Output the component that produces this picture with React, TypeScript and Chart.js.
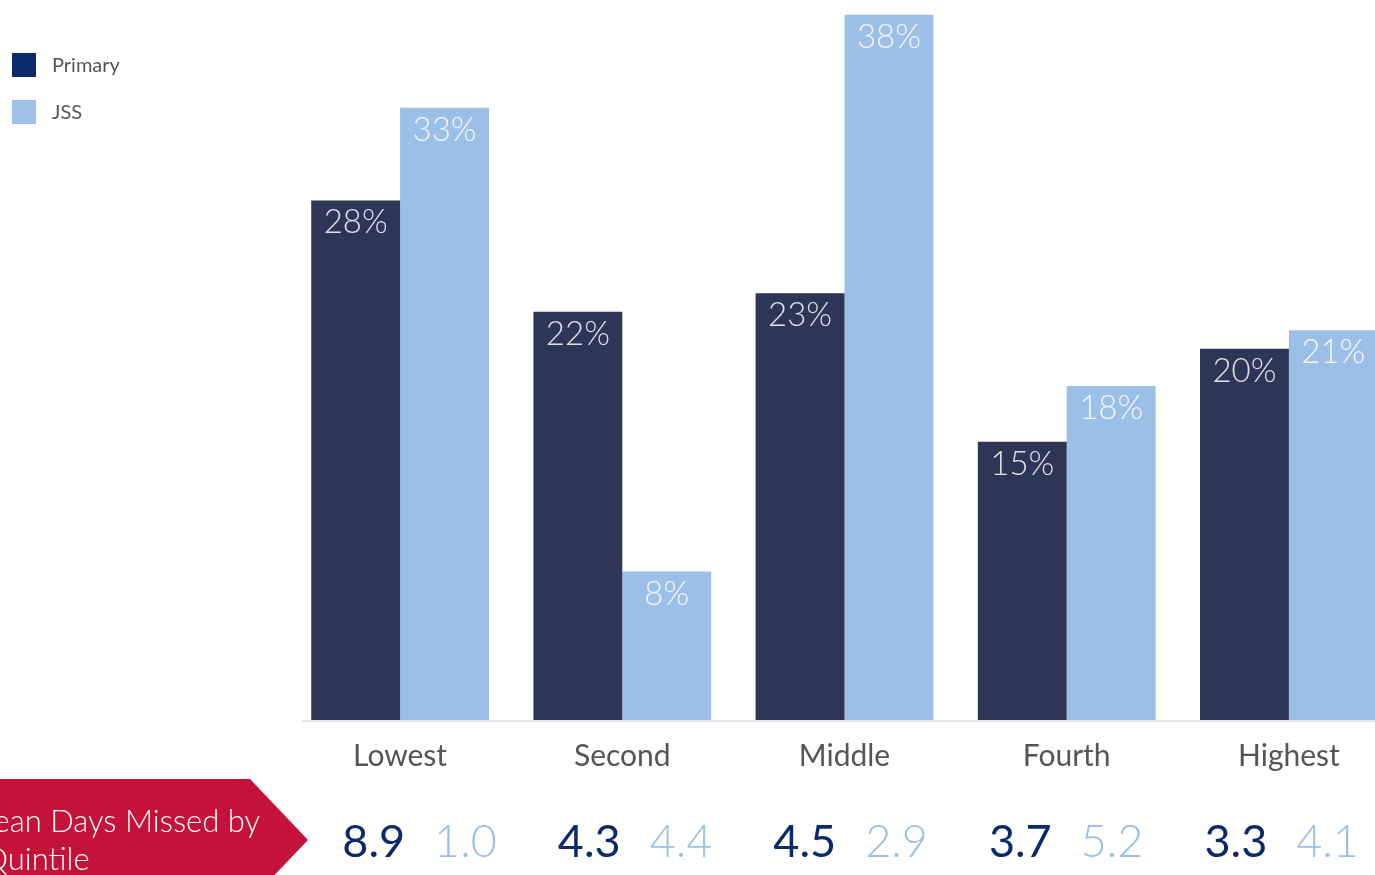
import React, { useEffect, useRef } from "react";
import { Chart, registerables } from "chart.js";

Chart.register(...registerables);

const categories = ["Lowest", "Second", "Middle", "Fourth", "Highest"];
const primaryValues = [28, 22, 23, 15, 20];
const jssValues = [33, 8, 38, 18, 21];
const primaryDays = ["8.9", "4.3", "4.5", "3.7", "3.3"];
const jssDays = ["1.0", "4.4", "2.9", "5.2", "4.1"];
const seriesNames = ["Primary", "JSS"];
const sideLabel = ["Mean Days Missed by", "Quintile"];

const BAR_DARK = "#2d3656";
const BAR_LIGHT = "#9bbfe6";
const LEGEND_DARK = "#0d2a6b";
const LEGEND_LIGHT = "#9fc3e8";
const NUM_DARK = "#0b2a6b";
const RED = "#c41239";
const FONT = "Lato, 'Open Sans', sans-serif";

const overlayPlugin = {
  id: "overlay",
  beforeDatasetsDraw(chart: any) {
    const ctx = chart.ctx;
    const area = chart.chartArea;
    ctx.save();
    ctx.strokeStyle = "#dcdcdc";
    ctx.lineWidth = 1.5;
    ctx.beginPath();
    ctx.moveTo(302, area.bottom + 1);
    ctx.lineTo(chart.width, area.bottom + 1);
    ctx.stroke();
    ctx.restore();
  },
  afterDatasetsDraw(chart: any) {
    const ctx = chart.ctx;
    const area = chart.chartArea;
    const xs = chart.scales.x;
    ctx.save();

    // bar value labels
    ctx.font = `300 33px ${FONT}`;
    ctx.textAlign = "center";
    ctx.textBaseline = "alphabetic";
    chart.data.datasets.forEach((ds: any, di: number) => {
      const meta = chart.getDatasetMeta(di);
      meta.data.forEach((bar: any, i: number) => {
        ctx.fillStyle = di === 0 ? "#dde1ea" : "#f2f7fc";
        ctx.fillText(ds.data[i] + "%", bar.x, bar.y + 33);
      });
    });

    // category labels
    ctx.font = `400 30px ${FONT}`;
    ctx.fillStyle = "#555555";
    categories.forEach((c, i) => {
      ctx.fillText(c, xs.getPixelForValue(i), area.bottom + 46);
    });

    // mean days numbers
    const ref = xs.getPixelForValue(3);
    categories.forEach((_, i) => {
      const gap = ref + (xs.getPixelForValue(i) - ref) * 0.97;
      ctx.textAlign = "right";
      ctx.font = `400 45px ${FONT}`;
      ctx.fillStyle = NUM_DARK;
      ctx.fillText(primaryDays[i], gap - 15, 857);
      ctx.textAlign = "left";
      ctx.font = `300 45px ${FONT}`;
      ctx.fillStyle = BAR_LIGHT;
      ctx.fillText(jssDays[i], gap + 14, 857);
    });

    // red arrow
    ctx.fillStyle = RED;
    ctx.beginPath();
    ctx.moveTo(0, 779);
    ctx.lineTo(250, 779);
    ctx.lineTo(308, 840);
    ctx.lineTo(265, 885);
    ctx.lineTo(0, 885);
    ctx.closePath();
    ctx.fill();
    ctx.fillStyle = "#ffffff";
    ctx.font = `300 31px ${FONT}`;
    ctx.textAlign = "left";
    const w1 = ctx.measureText(sideLabel[0]).width;
    ctx.fillText(sideLabel[0], 260 - w1, 832);
    const w2 = ctx.measureText("Q").width;
    ctx.fillText(sideLabel[1], 8 - w2, 870);

    // legend
    const legendColors = [LEGEND_DARK, LEGEND_LIGHT];
    ctx.font = `400 20px ${FONT}`;
    ctx.textBaseline = "middle";
    seriesNames.forEach((n, i) => {
      const y = 53 + i * 47;
      ctx.fillStyle = legendColors[i];
      ctx.fillRect(12, y, 24, 24);
      ctx.fillStyle = "#555555";
      ctx.fillText(n, 52, y + 13);
    });

    ctx.restore();
  },
};

export default function App() {
  const ref = useRef<HTMLCanvasElement | null>(null);
  useEffect(() => {
    if (!ref.current) return;
    const chart = new Chart(ref.current, {
      type: "bar",
      data: {
        labels: categories,
        datasets: [
          { label: seriesNames[0], data: primaryValues, backgroundColor: BAR_DARK, borderWidth: 0 },
          { label: seriesNames[1], data: jssValues, backgroundColor: BAR_LIGHT, borderWidth: 0 },
        ],
      },
      options: {
        responsive: false,
        animation: false,
        events: [],
        layout: { padding: { left: 289, right: 20, top: 0, bottom: 155 } },
        datasets: { bar: { categoryPercentage: 0.8, barPercentage: 1.0 } },
        scales: {
          x: { display: false },
          y: { display: false, min: 0, max: 38.8 },
        },
        plugins: { legend: { display: false }, tooltip: { enabled: false } },
      },
      plugins: [overlayPlugin],
    });
    return () => chart.destroy();
  }, []);
  return (
    <div
      style={{
        position: "fixed",
        left: 0,
        top: 0,
        width: 1375,
        height: 875,
        overflow: "hidden",
        background: "#ffffff",
      }}
    >
      <canvas ref={ref} width={1420} height={875} style={{ position: "absolute", left: 0, top: 0, width: 1420, height: 875 }} />
    </div>
  );
}
